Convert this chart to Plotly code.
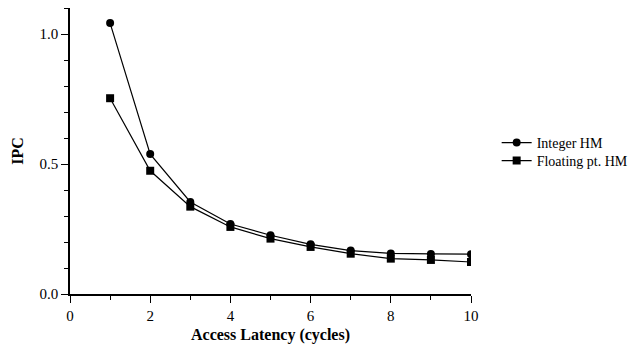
import plotly.graph_objects as go

# Access latency (cycles) vs. IPC, harmonic means
latency = [1, 2, 3, 4, 5, 6, 7, 8, 9, 10]
integer_hm = [1.042, 0.538, 0.354, 0.269, 0.226, 0.191, 0.167, 0.156, 0.154, 0.153]
float_hm = [0.753, 0.474, 0.336, 0.258, 0.213, 0.181, 0.155, 0.136, 0.131, 0.123]

font_family = "Liberation Serif"

fig = go.Figure()
fig.add_trace(go.Scatter(
    x=latency, y=integer_hm, name="Integer HM", mode="lines+markers",
    line=dict(color="black", width=1.2),
    marker=dict(symbol="circle", size=8, color="black"),
    legend="legend",
))
fig.add_trace(go.Scatter(
    x=latency, y=float_hm, name="Floating pt. HM", mode="lines+markers",
    line=dict(color="black", width=1.2),
    marker=dict(symbol="square", size=8, color="black"),
    legend="legend2",
))

axis_common = dict(
    showline=True, linecolor="black", linewidth=1.5,
    showgrid=False, zeroline=False,
    ticks="outside", tickcolor="black", tickwidth=1.2,
    tickfont=dict(family=font_family, size=15, color="black"),
)

fig.update_xaxes(
    range=[0, 10], dtick=2, tick0=0, ticklen=7,
    minor=dict(dtick=1, ticks="outside", ticklen=4, tickcolor="black", tickwidth=1.2),
    title=dict(text="<b>Access Latency (cycles)</b>", font=dict(family=font_family, size=16, color="black"), standoff=6),
    **axis_common,
)
fig.update_yaxes(
    range=[0, 1.1], dtick=0.5, tick0=0, tickformat=".1f", ticklen=7,
    minor=dict(dtick=0.1, ticks="outside", ticklen=4, tickcolor="black", tickwidth=1.2),
    title=dict(text="<b>IPC</b>", font=dict(family=font_family, size=16, color="black"), standoff=12),
    **axis_common,
)

legend_common = dict(
    x=1.064, xanchor="left", yanchor="middle",
    font=dict(family=font_family, size=14, color="black"),
    itemwidth=30, bgcolor="rgba(0,0,0,0)",
)

fig.update_layout(
    width=631, height=347,
    margin=dict(l=70, r=160, t=8, b=53, autoexpand=False),
    paper_bgcolor="white", plot_bgcolor="white",
    font=dict(family=font_family, size=14, color="black"),
    legend=dict(y=0.528, **legend_common),
    legend2=dict(y=0.465, **legend_common),
    showlegend=True,
)

fig.write_html("out.html")
